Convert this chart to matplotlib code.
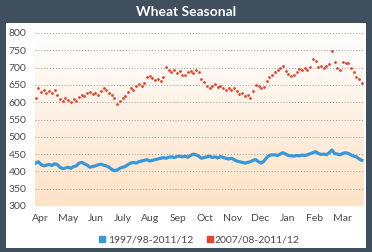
import numpy as np
import matplotlib
matplotlib.use("Agg")
import matplotlib.pyplot as plt
from matplotlib.patches import Rectangle
from matplotlib.lines import Line2D
from matplotlib.colors import LinearSegmentedColormap

plt.rcParams["font.family"] = ["Lato", "DejaVu Sans"]

months = ["Apr", "May", "Jun", "July", "Aug", "Sep", "Oct", "Nov", "Dec", "Jan", "Feb", "Mar"]
y_ticks = [300, 350, 400, 450, 500, 550, 600, 650, 700, 750, 800]

avg_label = "1997/98-2011/12"
recent_label = "2007/08-2011/12"

# long-run average (line), Apr -> Mar
avg_1997_2012 = [
    424, 428, 420, 416, 418, 420, 417, 422, 420, 412, 408, 410, 412, 409, 414, 416,
    424, 426, 422, 418, 412, 414, 416, 419, 421, 418, 416, 412, 406, 402, 404, 409,
    412, 414, 420, 424, 426, 424, 428, 430, 432, 434, 430, 432, 434, 436, 438, 440,
    438, 441, 442, 440, 443, 444, 442, 444, 441, 446, 450, 448, 444, 438, 440, 442,
    444, 440, 442, 439, 443, 440, 438, 436, 438, 434, 430, 428, 426, 424, 426, 428,
    432, 434, 428, 424, 430, 440, 446, 448, 448, 446, 450, 454, 450, 446, 445, 444,
    446, 445, 447, 446, 448, 451, 454, 457, 452, 449, 450, 448, 454, 462, 452, 450,
    448, 452, 454, 452, 448, 444, 442, 436, 432,
]

# recent 5-year average (dots), Apr -> Mar
avg_2007_2012 = [
    611, 641, 630, 634, 626, 632, 628, 634, 622, 608, 604, 611, 606, 602, 610, 604,
    614, 622, 618, 626, 630, 624, 628, 620, 632, 640, 634, 626, 622, 612, 596, 604,
    612, 618, 630, 640, 636, 646, 652, 648, 656, 672, 676, 670, 664, 668, 662, 672,
    701, 694, 688, 692, 684, 690, 680, 678, 686, 690, 684, 694, 688, 666, 658, 646,
    640, 648, 652, 644, 648, 640, 636, 642, 634, 640, 632, 624, 626, 618, 622, 612,
    632, 650, 646, 640, 644, 660, 672, 680, 688, 694, 700, 706, 690, 682, 676, 680,
    686, 696, 692, 698, 694, 702, 726, 718, 702, 706, 698, 704, 710, 748, 716, 700,
    694, 716, 712, 714, 700, 686, 674, 668, 656,
]

bg_dark = "#3f4f5e"
blue = "#3a97d5"
red = "#e8412c"
txt = "#4a4a4a"

fig = plt.figure(figsize=(3.72, 2.52), dpi=100, facecolor=bg_dark)
W, H = 372, 252

# white inner panel (behind the axes)
fig.patches.append(Rectangle((6 / W, 1 - 248 / H), 360 / W, 225 / H,
                             transform=fig.transFigure, facecolor="white",
                             edgecolor="none", zorder=-1))
fig.text(0.5, 1 - 12 / H, "Wheat Seasonal", color="white", fontsize=10,
         fontweight="bold", ha="center", va="center")

ax = fig.add_axes([35 / W, 1 - 206 / H, 329 / W, 173 / H])
ax.set_facecolor("none")

# soft white -> peach gradient behind the data
cmap = LinearSegmentedColormap.from_list("peach", ["#fde2c6", "#ffffff"])
grad = np.linspace(0, 1, 256).reshape(-1, 1)
ax.imshow(grad, cmap=cmap, origin="lower", aspect="auto",
          extent=[0, 12, 300, 800], zorder=0)

x1 = np.linspace(0, 12, len(avg_1997_2012), endpoint=False) + 0.02
x2 = np.linspace(0, 12, len(avg_2007_2012), endpoint=False) + 0.02

ax.plot(x1, avg_1997_2012, color=blue, lw=2.3, solid_joinstyle="round", zorder=3)
ax.plot(x2, avg_2007_2012, ls="none", marker="o", ms=2.0, mec="none",
        color=red, zorder=3)

ax.set_xlim(0, 12)
ax.set_ylim(300, 800)
ax.set_yticks(y_ticks)
ax.set_xticks(np.arange(12) + 0.2)
ax.set_xticklabels(months)
ax.grid(axis="y", color="#9a9a9a", ls=(0, (1, 2)), lw=0.7)
ax.set_axisbelow(False)
for s in ax.spines.values():
    s.set_visible(False)
ax.tick_params(length=0, labelsize=7.5, colors=txt, pad=6)
ax.tick_params(axis="x", pad=6)

handles = [Line2D([], [], ls="none", marker="s", ms=4.5, color=blue),
           Line2D([], [], ls="none", marker="s", ms=4.5, color=red)]
fig.legend(handles, [avg_label, recent_label], loc="center",
           bbox_to_anchor=(0.535, 1 - 240 / H), ncol=2, frameon=False,
           fontsize=7.5, handletextpad=0.1, columnspacing=1.2,
           labelcolor=txt, handlelength=0.8)

fig.savefig("out.png", dpi=100, facecolor=bg_dark)
